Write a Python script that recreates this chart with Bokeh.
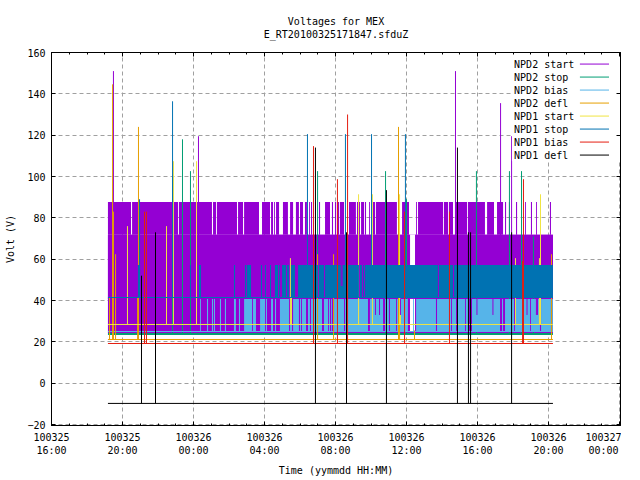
from bokeh.plotting import figure
from bokeh.models import Range1d, FixedTicker, LinearAxis, Title
from bokeh.core.properties import value
from bokeh.embed import file_html
from bokeh.resources import INLINE

FONT = "DejaVu Sans Mono"
# time values are hours after 100325 16:00
tick_hours = [0, 4, 8, 12, 16, 20, 24, 28, 32]
tick_labels = ["100325\n16:00", "100325\n20:00", "100326\n00:00", "100326\n04:00", "100326\n08:00",
               "100326\n12:00", "100326\n16:00", "100326\n20:00", "100327\n00:00"]
minor_hours = list(range(0, 33))
volt_ticks = [-20, 0, 20, 40, 60, 80, 100, 120, 140, 160]
t_start, t_end = 3.18, 28.25
names = ["NPD2 start", "NPD2 stop", "NPD2 bias", "NPD2 defl", "NPD1 start", "NPD1 stop", "NPD1 bias", "NPD1 defl"]
colors = ["#9400D3", "#009E73", "#56B4E9", "#E69F00", "#F0E442", "#0072B2", "#E51E10", "#000000"]

# base level of each channel (V)
npd2_start_base, npd2_start_mid, npd2_start_low, npd2_start_high = 24.5, 41.0, 71.8, 87.7
npd2_stop_base = 23.8
npd2_bias_low, npd2_bias_high = 25.0, 40.7
npd2_defl_base = 21.13
npd1_start_base = 28.4
npd1_stop_low, npd1_stop_high = 41.45, 57.2
npd1_bias_base = 19.2
npd1_defl_base = -9.8
data_gap = (20.20, 20.48)

# intervals (start hour, end hour) at which NPD2 start sits at its high level
high_start = [3.18,4.54,7.18,9.10,9.32,10.51,10.85,11.86,12.37,12.54,12.65,13.04,13.44,13.77,14.0,14.28,14.51,14.62,14.85,15.07,15.41,15.80,15.97,16.08,16.25,16.76,17.21,17.32,17.44,17.66,17.89,18.11,18.28,19.75,20.54,20.65,22.11,22.39,22.73,23.46,24.54,25.10,25.55,25.77,26.17,26.68,27.01,27.30,28.08]
high_end   = [4.48,7.13,9.04,9.27,10.45,10.79,11.69,12.31,12.48,12.59,12.82,13.32,13.61,13.94,14.17,14.39,14.56,14.68,14.90,15.13,15.69,15.86,16.03,16.20,16.48,17.15,17.27,17.38,17.61,17.72,17.94,18.23,19.46,20.14,20.59,22.06,22.34,22.62,23.41,24.42,24.93,25.44,25.61,25.83,26.23,26.73,27.07,27.35,28.14]

# intervals at which NPD1 stop fills its band
stop_start = [4.87,7.80,8.31,10.28,10.90,11.01,11.80,12.03,12.31,12.59,12.82,12.99,13.27,13.49,13.89,15.07,15.41,17.38,17.55,17.66,21.83,22.68]
stop_end   = [4.99,7.86,8.42,10.34,10.96,11.24,11.86,12.08,12.37,12.76,12.87,13.21,13.38,13.72,15.01,15.35,17.32,17.49,17.61,21.77,22.62,28.25]

# intervals at which NPD2 bias fills its band
bias_start = [8.37,8.76,9.04,9.15,9.49,9.77,10.28,10.56,10.85,11.35,11.75,12.08,12.37,12.59,12.87,13.44,13.61,14.0,14.11,14.45,14.62,15.35,15.63,15.75,15.92,16.54,17.94,18.79,19.07,19.46,20.37,20.54,21.72,22.56,22.85,23.35,23.69,25.38,25.55,26.11,27.01,27.58,28.20]
bias_end   = [8.42,8.82,9.10,9.21,9.55,9.83,10.39,10.62,11.30,11.52,12.03,12.14,12.48,12.65,13.38,13.55,13.94,14.06,14.34,14.56,15.24,15.58,15.69,15.80,16.48,17.83,18.68,19.01,19.41,20.08,20.42,21.66,22.51,22.79,23.30,23.52,25.27,25.44,26.06,26.96,27.52,28.14,28.25]

# short dips: (hour, lower volt, upper volt)
dip_hours = [18.25,18.48,19.66,23.97,24.87,26.79,27.32,27.38,16.32,16.37]
dip_low   = [33,33,33,33,33,33,33,33,47,47]
dip_high  = [41,41,41,41,41,41,41,41,57.2,57.2]

# spikes: hour and peak volts per channel
npd2_start_t = [3.49,8.28,22.76,25.30,25.92]
npd2_start_v = [151,119.5,151,135.5,119.5]
npd2_stop_t = [6.82,7.38,7.83,14.99,18.82,20.0,23.94,25.80,26.48,27.15]
npd2_stop_v = [100,118,102.6,102.6,102.6,89,102.6,102.6,102.6,71]
npd2_defl_t = [3.27,3.44,3.49,3.61,4.85,4.90,14.99,15.89,19.55,19.61,20.45,28.17]
npd2_defl_v = [41.6,144.6,83,62.4,41.6,124,62.4,62.4,124,41.6,25.5,62.4]
npd1_start_t = [4.28,6.48,6.87,8.17,13.46,13.52,17.30,18.08,19.61,19.66,26.14,27.49,27.55]
npd1_start_v = [76,76,107.4,107.4,60.5,44.5,91.4,91.4,91.4,41,60.5,60.5,91.4]
npd1_stop_t = [4.96,6.82,14.42,16.56,18.03,19.94]
npd1_stop_v = [89,136.4,120.5,120.5,120.5,120.5]
npd1_bias_t = [5.24,5.35,14.76,16.11,16.68,19.89,22.42,26.54,26.59]
npd1_bias_v = [83,83,114.7,98.7,130,83,83,59,98.7]
npd1_defl_t = [5.07,5.86,14.87,16.62,18.87,22.87,23.49,23.61,25.92]
npd1_defl_v = [52,73,114,73,93.4,114,73,73,73]

p = figure(width=624, height=468, output_backend="svg", toolbar_location=None, title=None,
           x_range=Range1d(0, 569/17.75),
           y_range=Range1d(-20 - 1/2.0667, 160),
           frame_width=569, frame_height=373,
           min_border_left=51, min_border_top=52, min_border_right=1, min_border_bottom=39,
           background_fill_color="white", border_fill_color="white", outline_line_color="black")
p.outline_line_width = 1


def seg(t, low, high, color, width=1):
    p.segment(t, low, t, high, line_color=color, line_width=width)


def hline(v, color, width=1):
    p.segment([t_start], [v], [t_end], [v], line_color=color, line_width=width)


# NPD2 start
p.quad(left=[t_start], right=[t_end], bottom=[npd2_bias_high], top=[npd2_start_low], color=colors[0], line_color=None)
p.quad(left=[t_start, data_gap[1]], right=[data_gap[0], t_end], bottom=[npd2_start_base]*2, top=[npd2_start_low]*2,
       color=colors[0], line_color=None)
p.quad(left=[data_gap[0]], right=[data_gap[1]], bottom=[npd2_start_base], top=[npd2_start_low], color="white", line_color=None)
p.quad(left=high_start, right=high_end, bottom=[npd2_start_low]*len(high_start), top=[npd2_start_high]*len(high_start),
       color=colors[0], line_color=None)
hline(npd2_start_mid, colors[0])
hline(npd2_start_base, colors[0])
seg(npd2_start_t, [npd2_start_base]*len(npd2_start_t), npd2_start_v, colors[0])
# NPD2 stop
hline(npd2_stop_base, colors[1], 2)
seg(npd2_stop_t, [npd2_stop_base]*len(npd2_stop_t), npd2_stop_v, colors[1])
# NPD2 bias
p.quad(left=bias_start, right=bias_end, bottom=[npd2_bias_low]*len(bias_start), top=[npd2_bias_high]*len(bias_start),
       color=colors[2], line_color=None)
hline(npd2_bias_low, colors[2])
# NPD2 defl
hline(npd2_defl_base, colors[3])
seg(npd2_defl_t, [npd2_defl_base]*len(npd2_defl_t), npd2_defl_v, colors[3])
# NPD1 start
hline(npd1_start_base, colors[4])
seg(npd1_start_t, [npd1_start_base]*len(npd1_start_t), npd1_start_v, colors[4])
# NPD1 stop
p.quad(left=stop_start, right=stop_end, bottom=[npd1_stop_low]*len(stop_start), top=[npd1_stop_high]*len(stop_start),
       color=colors[5], line_color=None)
hline(npd1_stop_low, colors[5])
seg(npd1_stop_t, [npd1_stop_low]*len(npd1_stop_t), npd1_stop_v, colors[5])
seg(dip_hours, dip_low, dip_high, colors[0])
# NPD1 bias
hline(npd1_bias_base, colors[6])
seg(npd1_bias_t, [npd1_bias_base]*len(npd1_bias_t), npd1_bias_v, colors[6])
# NPD1 defl
hline(npd1_defl_base, colors[7])
seg(npd1_defl_t, [npd1_defl_base]*len(npd1_defl_t), npd1_defl_v, colors[7])

# key, drawn in the same way as the reference: text first, line sample after it
key_left, key_right, key_bottom, key_top = 25.94, 32.03, 107.4, 160
p.quad(left=[key_left], right=[key_right], bottom=[key_bottom], top=[key_top], color="white", line_color=None)
row_step = 13 / 2.0667
row_v = [154.4 - i * row_step for i in range(len(names))]
p.text([26.06]*len(names), row_v, text=names, text_font=value(FONT), text_font_size="10px",
       text_baseline="middle", text_align="left", text_color="black")
p.segment([29.77]*len(names), row_v, [31.41]*len(names), row_v, line_color=colors, line_width=1)

# axes
xaxis = p.xaxis[0]
yaxis = p.yaxis[0]
xaxis.ticker = FixedTicker(ticks=tick_hours, minor_ticks=minor_hours)
yaxis.ticker = FixedTicker(ticks=volt_ticks)
xaxis.major_label_overrides = {t: s for t, s in zip(tick_hours, tick_labels)}
xaxis.axis_label = "Time (yymmdd HH:MM)"
yaxis.axis_label = "Volt (V)"
for ax in (xaxis, yaxis):
    ax.major_label_text_font = FONT
    ax.major_label_text_font_size = "10px"
    ax.major_label_text_color = "black"
    ax.axis_label_text_font = FONT
    ax.axis_label_text_font_size = "10px"
    ax.axis_label_text_font_style = "normal"
    ax.axis_label_text_color = "black"
    ax.major_tick_out = 0
    ax.major_tick_in = 4
    ax.minor_tick_out = 0
    ax.minor_tick_in = 2
    ax.axis_line_color = "black"
    ax.major_tick_line_color = "black"
    ax.minor_tick_line_color = "black"
yaxis.minor_tick_line_color = None
xaxis.major_label_standoff = 6
yaxis.major_label_standoff = 6
xaxis.axis_label_standoff = 6
yaxis.axis_label_standoff = 8

top_ax = LinearAxis(ticker=FixedTicker(ticks=tick_hours, minor_ticks=minor_hours),
                    major_label_overrides={t: "" for t in tick_hours},
                    major_tick_out=0, major_tick_in=4, minor_tick_out=0, minor_tick_in=2, major_label_standoff=0)
right_ax = LinearAxis(ticker=FixedTicker(ticks=volt_ticks),
                      major_label_overrides={t: "" for t in volt_ticks},
                      major_tick_out=0, major_tick_in=4, minor_tick_line_color=None, major_label_standoff=0)
p.add_layout(top_ax, "above")
p.add_layout(right_ax, "right")

p.xgrid.ticker = FixedTicker(ticks=tick_hours)
p.ygrid.ticker = FixedTicker(ticks=volt_ticks)
for g in (p.xgrid, p.ygrid):
    g.grid_line_color = "#A0A0A0"
    g.grid_line_dash = "4 3"
    g.grid_line_width = 1

title_lines = ["E_RT20100325171847.sfduZ", "Voltages for MEX"]
title_gaps = [26, -26]
for line, gap in zip(title_lines, title_gaps):
    p.add_layout(Title(text=line, align="center", text_font=FONT, text_font_size="10px", text_font_style="normal",
                       text_color="black", standoff=gap), "above")

open("out.html", "w").write(file_html(p, INLINE))
